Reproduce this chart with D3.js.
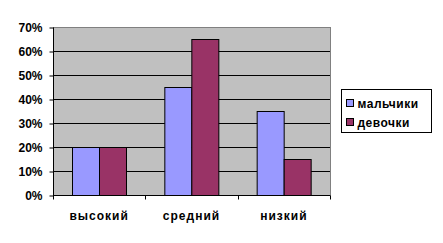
<!DOCTYPE html>
<html>
<head>
<meta charset="utf-8">
<script src="https://cdn.jsdelivr.net/npm/d3@7"></script>
<style>
  body { margin: 0; background: #fff; }
  text { font-family: "Liberation Sans", Arial, sans-serif; font-weight: bold; fill: #000; }
</style>
</head>
<body>
<div id="chart"></div>
<script>
const categories = ["высокий", "средний", "низкий"];
const seriesNames = ["мальчики", "девочки"];
const boys = [20, 45, 35];
const girls = [20, 65, 15];
const yTicks = [0, 10, 20, 30, 40, 50, 60, 70];
const colors = ["#9999FF", "#993366"];

const width = 443, height = 243;
const plot = { left: 53, top: 27, right: 330, bottom: 195 };

const svg = d3.select("#chart").append("svg")
    .attr("width", width)
    .attr("height", height);

const x = d3.scaleBand()
    .domain(categories)
    .range([plot.left, plot.right])
    .paddingInner(0)
    .paddingOuter(0);

const inner = d3.scaleBand()
    .domain(seriesNames)
    .range([x.bandwidth() * 0.21, x.bandwidth() * 0.79]);

const y = d3.scaleLinear()
    .domain([0, 70])
    .range([plot.bottom, plot.top]);

// plot background
svg.append("rect")
    .attr("x", plot.left)
    .attr("y", plot.top)
    .attr("width", plot.right - plot.left)
    .attr("height", plot.bottom - plot.top)
    .attr("fill", "#C0C0C0")
    .attr("stroke", "#808080")
    .attr("stroke-width", 1)
    .attr("shape-rendering", "crispEdges");

// gridlines
svg.append("g")
    .selectAll("line")
    .data(yTicks.filter(d => d > 0 && d < 70))
    .enter().append("line")
    .attr("x1", plot.left)
    .attr("x2", plot.right)
    .attr("y1", d => Math.round(y(d)) + 0.5)
    .attr("y2", d => Math.round(y(d)) + 0.5)
    .attr("stroke", "#000")
    .attr("stroke-width", 1);

// bars
const data = categories.map((c, i) => ({ cat: c, values: [boys[i], girls[i]] }));
const groups = svg.append("g")
    .selectAll("g")
    .data(data)
    .enter().append("g")
    .attr("transform", d => `translate(${x(d.cat)},0)`);

groups.selectAll("rect")
    .data(d => d.values.map((v, j) => ({ name: seriesNames[j], value: v, j })))
    .enter().append("rect")
    .attr("x", d => Math.round(inner(d.name)) + 0.5)
    .attr("y", d => Math.round(y(d.value)) + 0.5)
    .attr("width", Math.round(inner.bandwidth()))
    .attr("height", d => Math.round(y(0)) - Math.round(y(d.value)))
    .attr("fill", d => colors[d.j])
    .attr("stroke", "#000")
    .attr("stroke-width", 1);

// y axis
const yAxis = d3.axisLeft(y)
    .tickValues(yTicks)
    .tickSize(4)
    .tickPadding(7)
    .tickFormat(d => d + "%");

const yg = svg.append("g")
    .attr("transform", `translate(${plot.left + 0.5},0.5)`)
    .call(yAxis);
yg.select(".domain").attr("d", `M0,${plot.top}V${plot.bottom}`);
yg.selectAll("text").style("font-size", "12px").attr("dy", "0.35em").attr("fill", "#000");

// x axis
const xAxis = d3.axisBottom(x).tickSize(0).tickPadding(16);
const xg = svg.append("g")
    .attr("transform", `translate(0,${plot.bottom + 0.5})`)
    .call(xAxis);
xg.select(".domain").attr("d", `M${plot.left},0H${plot.right}`);
xg.selectAll("text").style("font-size", "12px").style("letter-spacing", "1px");

// category boundary ticks
xg.append("g")
    .selectAll("line")
    .data(categories.concat([null]))
    .enter().append("line")
    .attr("x1", (d, i) => Math.round(plot.left + i * x.bandwidth()) + 0.5)
    .attr("x2", (d, i) => Math.round(plot.left + i * x.bandwidth()) + 0.5)
    .attr("y1", 0)
    .attr("y2", 4)
    .attr("stroke", "#000");

// legend
const legend = svg.append("g").attr("transform", "translate(341.5,89.5)");
legend.append("rect")
    .attr("width", 90)
    .attr("height", 43)
    .attr("fill", "#fff")
    .attr("stroke", "#000");

const items = legend.selectAll(".item")
    .data(seriesNames)
    .enter().append("g")
    .attr("class", "item")
    .attr("transform", (d, i) => `translate(5,${14 + i * 19})`);

items.append("rect")
    .attr("x", 0)
    .attr("y", -4)
    .attr("width", 7)
    .attr("height", 7)
    .attr("fill", (d, i) => colors[i])
    .attr("stroke", "#000");

items.append("text")
    .attr("x", 11)
    .attr("y", 0)
    .attr("dy", "0.35em")
    .style("font-size", "12px")
    .style("letter-spacing", "0.5px")
    .text(d => d);
</script>
</body>
</html>
